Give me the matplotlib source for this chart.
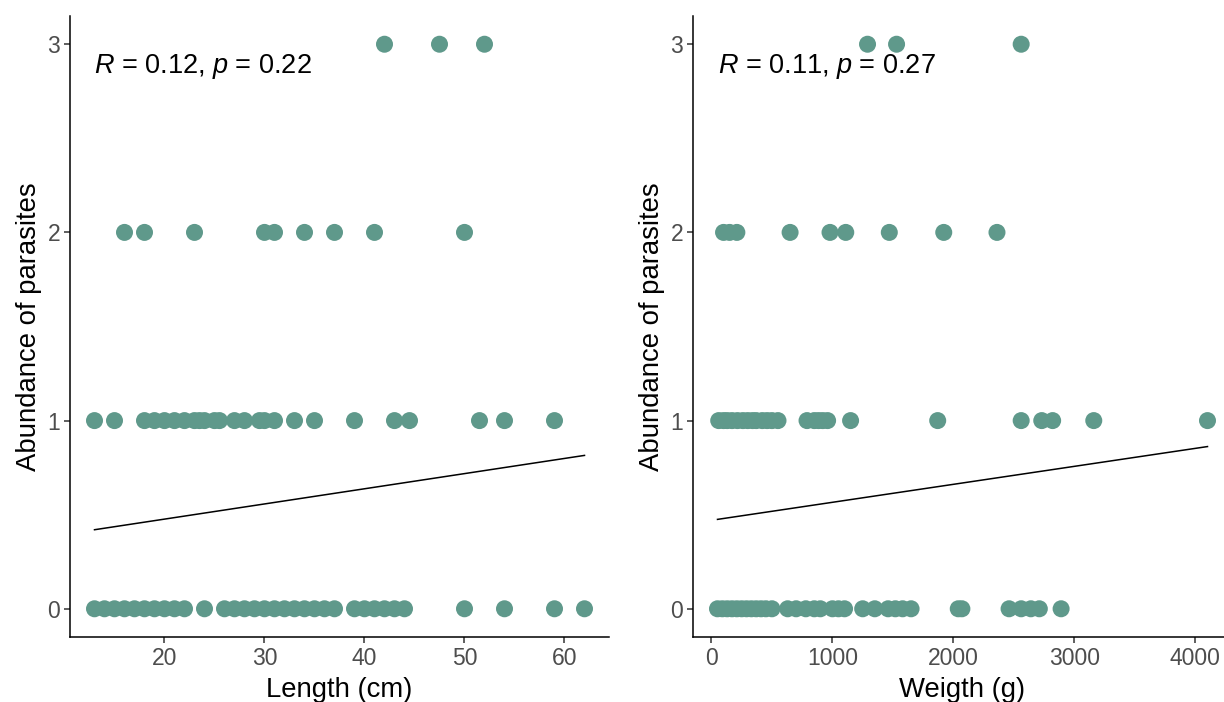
import numpy as np
import matplotlib
matplotlib.use("Agg")
import matplotlib.pyplot as plt

plt.rcParams["font.family"] = ["Liberation Sans", "DejaVu Sans"]
plt.rcParams["mathtext.fontset"] = "custom"
plt.rcParams["mathtext.it"] = "Liberation Sans:italic"
plt.rcParams["mathtext.rm"] = "Liberation Sans"

# fish length (cm) grouped by parasite abundance
length_by_abund = {
    0: [13, 14, 15, 16, 17, 18, 19, 20, 21, 22, 24, 26, 27, 28, 29, 30, 31, 32, 33,
        34, 35, 36, 37, 39, 40, 41, 42, 43, 44, 50, 54, 59, 62],
    1: [13, 15, 18, 19, 20, 21, 22, 23, 23.5, 24, 25, 25.5, 27, 28, 29.5, 30, 31, 33,
        35, 39, 43, 44.5, 51.5, 54, 59],
    2: [16, 18, 23, 30, 31, 34, 37, 41, 50],
    3: [42, 47.5, 52],
}
# fish weight (g) grouped by parasite abundance
weight_by_abund = {
    0: [50, 90, 130, 170, 210, 250, 290, 330, 370, 410, 450, 500, 630, 700, 780, 850,
        900, 1000, 1050, 1100, 1250, 1350, 1460, 1520, 1580, 1650, 2040, 2070, 2460,
        2560, 2640, 2710, 2890],
    1: [60, 100, 130, 170, 215, 260, 300, 340, 370, 420, 460, 500, 550, 790, 850, 885,
        920, 960, 1150, 1870, 2560, 2730, 2820, 3160, 4100],
    2: [100, 150, 210, 650, 980, 1110, 1470, 1920, 2360],
    3: [1290, 1530, 2560],
}
# fitted regression lines (endpoints)
fit_len_x = [13, 62]
fit_len_y = [0.42, 0.815]
fit_wt_x = [50, 4100]
fit_wt_y = [0.475, 0.862]

labels = [r"$\it{R}$ = 0.12, $\it{p}$ = 0.22", r"$\it{R}$ = 0.11, $\it{p}$ = 0.27"]

W, H = 1224, 702
fig = plt.figure(figsize=(W / 100, H / 100), dpi=100)
ax1 = fig.add_axes([70 / W, 65 / H, 539 / W, 621 / H])
ax2 = fig.add_axes([693 / W, 65 / H, 539 / W, 621 / H])

point_color = "#5F998B"
panels = [
    (ax1, length_by_abund, fit_len_x, fit_len_y, "Length (cm)", (10.55, 64.45), [20, 30, 40, 50, 60], labels[0]),
    (ax2, weight_by_abund, fit_wt_x, fit_wt_y, "Weigth (g)", (-152.5, 4302.5), [0, 1000, 2000, 3000, 4000], labels[1]),
]

for ax, groups, fx, fy, xlabel, xlim, xticks, lab in panels:
    for abund, xs in groups.items():
        ax.scatter(xs, [abund] * len(xs), s=150, color=point_color, edgecolors="none", zorder=2)
    ax.plot(fx, fy, color="black", linewidth=1.1, zorder=3)
    ax.text(fx[0], 2.88, lab, fontsize=19.5, ha="left", va="center", color="black")
    ax.set_xlim(*xlim)
    ax.set_ylim(-0.15, 3.15)
    ax.set_xticks(xticks)
    ax.set_yticks([0, 1, 2, 3])
    ax.set_xlabel(xlabel, fontsize=19.8, labelpad=5)
    ax.set_ylabel("Abundance of parasites", fontsize=19.8, labelpad=4)
    for s in ["top", "right"]:
        ax.spines[s].set_visible(False)
    for s in ["left", "bottom"]:
        ax.spines[s].set_linewidth(1.1)
        ax.spines[s].set_color("black")
    ax.tick_params(axis="both", labelsize=16.5, colors="#333333", labelcolor="#4D4D4D",
                   length=4, width=1.1, pad=3)

fig.savefig("out.png", dpi=100)
